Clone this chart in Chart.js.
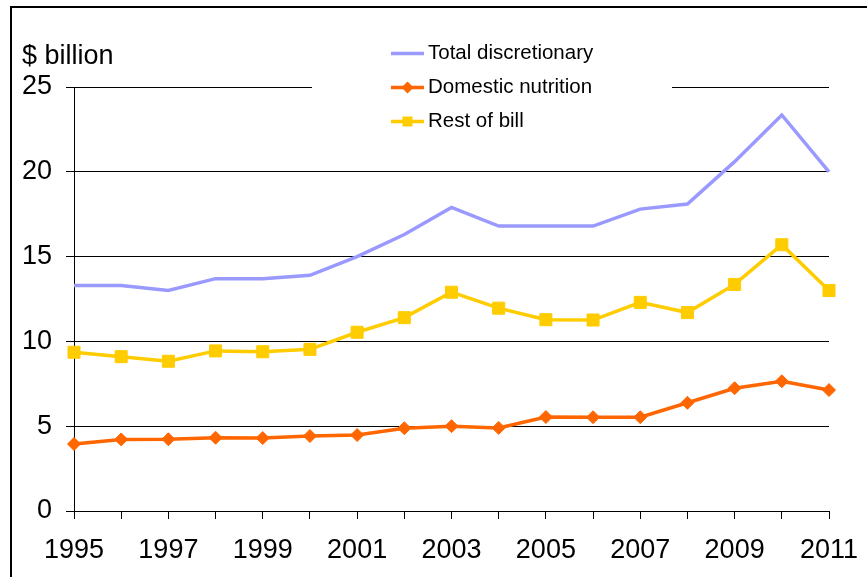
<!DOCTYPE html>
<html lang="en">
<head>
    <meta charset="UTF-8">
    <title>Discretionary spending, $ billion</title>
    <script src="https://cdn.jsdelivr.net/npm/chart.js"></script>
    <style>
        * {
            box-sizing: border-box;
            margin: 0;
            padding: 0;
        }

        body {
            width: 867px;
            height: 577px;
            overflow: hidden;
            background: #fff;
            font-family: Arial, "Liberation Sans", sans-serif;
        }

        .frame {
            position: absolute;
            left: 10px;
            top: 6px;
            width: 900px;
            height: 700px;
            border-left: 2px solid #000;
            border-top: 2px solid #000;
        }

        .unit {
            position: absolute;
            left: 22px;
            top: 42px;
            font-size: 27px;
            line-height: 27px;
            color: #000;
        }

        .wrap {
            position: absolute;
            left: 0;
            top: 0;
            width: 867px;
            height: 577px;
        }
    </style>
</head>
<body>
    <div class="frame"></div>
    <div class="wrap"><canvas id="chart" width="867" height="577"></canvas></div>
    <div class="unit">$ billion</div>

    <script>
        // data
        const years = ["1995", "1996", "1997", "1998", "1999", "2000", "2001", "2002", "2003",
                       "2004", "2005", "2006", "2007", "2008", "2009", "2010", "2011"];
        const totalDiscretionary = [13.3, 13.3, 13.0, 13.7, 13.7, 13.9, 15.0, 16.3, 17.9,
                                    16.8, 16.8, 16.8, 17.8, 18.1, 20.6, 23.35, 20.0];
        const domesticNutrition = [3.95, 4.22, 4.23, 4.32, 4.3, 4.42, 4.48, 4.88, 5.0,
                                   4.9, 5.54, 5.53, 5.53, 6.38, 7.24, 7.65, 7.13];
        const restOfBill = [9.36, 9.1, 8.83, 9.44, 9.39, 9.53, 10.54, 11.4, 12.9,
                            11.96, 11.28, 11.26, 12.3, 11.7, 13.36, 15.7, 13.0];
        const yTicks = [0, 5, 10, 15, 20, 25];

        const font = "Arial, 'Liberation Sans', sans-serif";

        // legend drawn inside the plot, on a white box that breaks the top gridline
        const insideLegend = {
            id: 'insideLegend',
            beforeDatasetsDraw(chart) {
                const ctx = chart.ctx;
                ctx.save();
                ctx.fillStyle = '#fff';
                ctx.fillRect(312, 30, 360, 108);

                chart.data.datasets.forEach((ds, i) => {
                    const y = 53.5 + i * 34;
                    ctx.strokeStyle = ds.borderColor;
                    ctx.lineWidth = ds.borderWidth;
                    ctx.beginPath();
                    ctx.moveTo(391, y);
                    ctx.lineTo(424, y);
                    ctx.stroke();
                    if (ds.pointRadius > 0) {
                        ctx.fillStyle = ds.pointBackgroundColor;
                        ctx.beginPath();
                        if (ds.pointStyle === 'rect') {
                            ctx.rect(407.5 - 5, y - 5, 10, 10);
                        } else {
                            ctx.moveTo(407.5 - 6, y);
                            ctx.lineTo(407.5, y - 6);
                            ctx.lineTo(407.5 + 6, y);
                            ctx.lineTo(407.5, y + 6);
                            ctx.closePath();
                        }
                        ctx.fill();
                    }
                    ctx.fillStyle = '#000';
                    ctx.font = '20.5px ' + font;
                    ctx.textAlign = 'left';
                    ctx.textBaseline = 'middle';
                    ctx.fillText(ds.label, 428, y);
                });
                ctx.restore();
            }
        };

        new Chart(document.getElementById('chart'), {
            type: 'line',
            data: {
                labels: years,
                datasets: [
                    {
                        label: 'Total discretionary',
                        data: totalDiscretionary,
                        borderColor: '#9999FF',
                        borderWidth: 3.5,
                        pointRadius: 0,
                        pointHoverRadius: 0,
                        tension: 0
                    },
                    {
                        label: 'Domestic nutrition',
                        data: domesticNutrition,
                        borderColor: '#FF6600',
                        borderWidth: 3.5,
                        pointStyle: 'rectRot',
                        pointRadius: 6.5,
                        pointBorderWidth: 1,
                        pointBackgroundColor: '#FF6600',
                        pointBorderColor: '#FF6600',
                        tension: 0
                    },
                    {
                        label: 'Rest of bill',
                        data: restOfBill,
                        borderColor: '#FFCC00',
                        borderWidth: 3.5,
                        pointStyle: 'rect',
                        pointRadius: 8.5,
                        pointBorderWidth: 1,
                        pointBackgroundColor: '#FFCC00',
                        pointBorderColor: '#FFCC00',
                        tension: 0
                    }
                ]
            },
            options: {
                responsive: false,
                animation: false,
                events: [],
                layout: {
                    padding: { left: 0, top: 87, right: 38, bottom: 0 }
                },
                plugins: {
                    legend: { display: false },
                    tooltip: { enabled: false }
                },
                scales: {
                    x: {
                        type: 'category',
                        offset: false,
                        afterFit(scale) {
                            scale.height = 66;
                            scale.paddingLeft = 0;
                            scale.paddingRight = 0;
                        },
                        grid: {
                            drawOnChartArea: false,
                            drawTicks: true,
                            tickLength: 8,
                            color: '#000',
                            lineWidth: 1
                        },
                        border: { display: true, color: '#000', width: 1 },
                        ticks: {
                            autoSkip: false,
                            maxRotation: 0,
                            padding: 15,
                            color: '#000',
                            font: { family: font, size: 27 },
                            callback: function (value, index) {
                                return index % 2 === 0 ? years[index] : '';
                            }
                        }
                    },
                    y: {
                        min: yTicks[0],
                        max: yTicks[yTicks.length - 1],
                        afterFit(scale) { scale.width = 74; },
                        afterBuildTicks(scale) {
                            scale.ticks = yTicks.map(v => ({ value: v }));
                        },
                        grid: {
                            color: '#000',
                            lineWidth: 1,
                            tickLength: 8
                        },
                        border: { display: true, color: '#000', width: 1 },
                        ticks: {
                            padding: 14,
                            color: '#000',
                            font: { family: font, size: 27 }
                        }
                    }
                }
            },
            plugins: [insideLegend]
        });
    </script>
</body>
</html>
